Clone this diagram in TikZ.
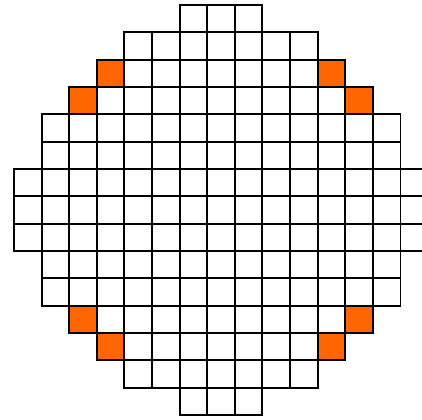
\documentclass[tikz,border=0pt]{standalone}
\usepackage{tikz}
\definecolor{waferOrange}{RGB}{255,102,0}
\definecolor{waferLine}{RGB}{0,0,0}

\begin{document}
\begin{tikzpicture}[
  x=0.7cm,y=-0.6932cm,
  cell/.style={draw=waferLine,line width=1.4pt,fill=white},
  hot/.style={fill=waferOrange}
]
\useasboundingbox (-0.507,-0.183) rectangle (14.78,15.15);
\clip (-0.507,-0.183) rectangle (14.78,15.15);
% Rows: row/first column/last column
\foreach \r/\a/\b in {0/6/8,1/4/10,2/3/11,3/2/12,4/1/13,5/1/13,6/0/14,7/0/14,
                      8/0/14,9/1/13,10/1/13,11/2/12,12/3/11,13/4/10,14/6/8} {
  \foreach \c in {\a,...,\b} {
    \draw[cell] (\c,\r) rectangle ++(1,1);
  }
}
% Edge cells
\foreach \c/\r in {3/2,11/2,2/3,12/3,2/11,12/11,3/12,11/12} {
  \draw[cell,hot] (\c,\r) rectangle ++(1,1);
}
\end{tikzpicture}
\end{document}
